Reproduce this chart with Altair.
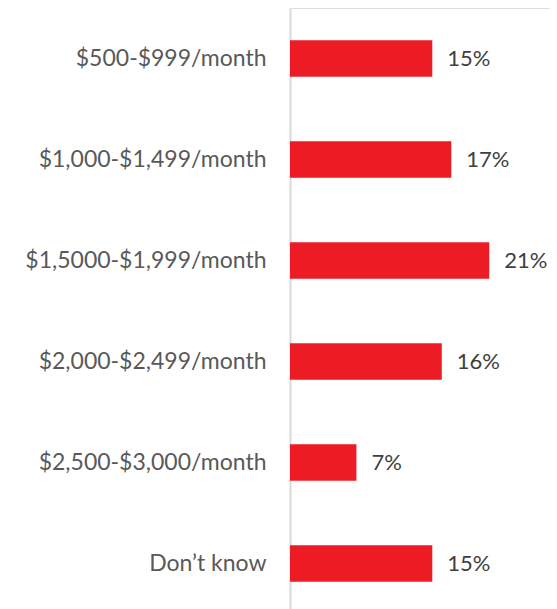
import altair as alt
import pandas as pd

categories = [
    "$500-$999/month",
    "$1,000-$1,499/month",
    "$1,5000-$1,999/month",
    "$2,000-$2,499/month",
    "$2,500-$3,000/month",
    "Don\u2019t know",
]
values = [15, 17, 21, 16, 7, 15]
labels = ["15%", "17%", "21%", "16%", "7%", "15%"]

df = pd.DataFrame({"category": categories, "value": values, "label": labels})

FONT = "Lato"

y_enc = alt.Y(
    "category:N",
    sort=categories,
    title=None,
    scale=alt.Scale(paddingInner=0.64, paddingOuter=0.32),
    axis=alt.Axis(
        domain=True,
        domainColor="#d9d9d9",
        domainWidth=2,
        ticks=False,
        grid=False,
        labelFont=FONT,
        labelFontSize=23,
        labelColor="#595959",
        labelPadding=24,
        labelLimit=400,
    ),
)
x_enc = alt.X(
    "value:Q",
    scale=alt.Scale(domain=[0, 27.3], nice=False),
    axis=None,
)

bars = alt.Chart(df).mark_bar(color="#ED1C24", strokeWidth=0).encode(x=x_enc, y=y_enc)
text = alt.Chart(df).mark_text(
    align="left", baseline="middle", dx=15, font=FONT, fontSize=22, color="#404040"
).encode(x=x_enc, y=alt.Y("category:N", sort=categories), text="label:N")

chart = (
    alt.layer(bars, text)
    .properties(
        width=259,
        height=606,
        autosize=alt.AutoSizeParams(type="none"),
        padding={"left": 282, "top": 0, "right": 0, "bottom": 0},
    )
    .configure_view(stroke=None)
    .configure(background="white")
)

chart.save("out.html", embed_options={"renderer": "svg", "actions": False})
